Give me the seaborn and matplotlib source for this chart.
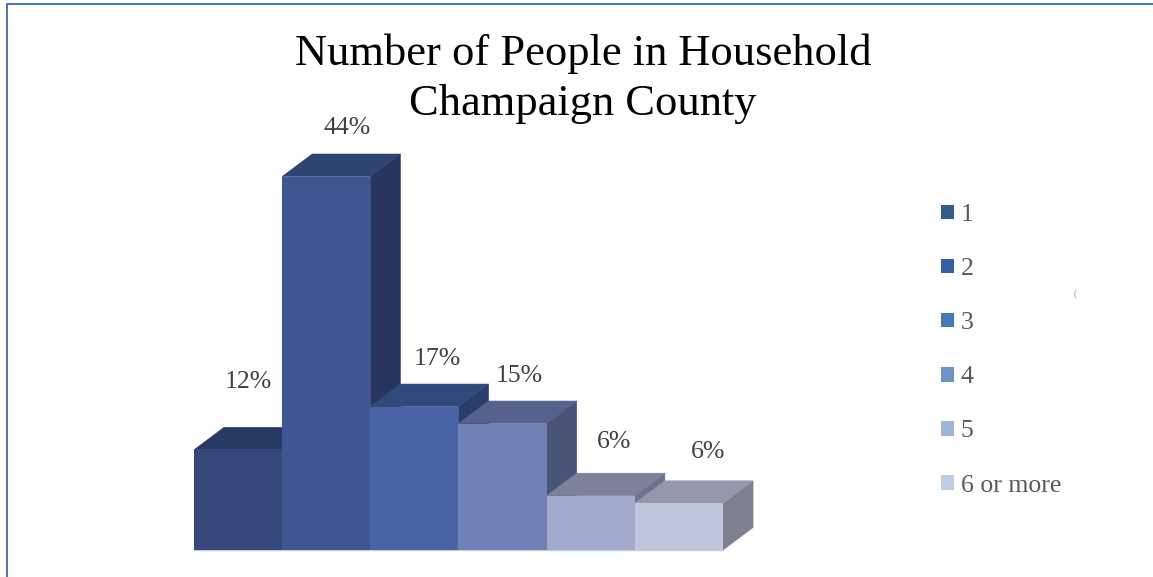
"""
Number of People in Household - Champaign County
Flat bars from seaborn, with the 3D top and side faces added on top of them.
"""

import pandas as pd
import matplotlib.pyplot as plt
import seaborn as sns
from matplotlib.lines import Line2D
from matplotlib.patches import Patch, Polygon

# DATA
PEOPLE = ['1', '2', '3', '4', '5', '6 or more']
SHARE = [11.8, 44.0, 16.9, 14.9, 6.4, 5.5]
SHARE_LABELS = ['12%', '44%', '17%', '15%', '6%', '6%']

# COLOURS
FRONT_COLORS = ['#36477A', '#3E5790', '#4763A4', '#6F80B5', '#9FAACC', '#BEC6DC']
TOP_COLORS = ['#263A63', '#2F4470', '#314A7C', '#55628E', '#7C8299', '#9498AA']
SIDE_COLORS = ['#263560', '#27355F', '#2A3C6C', '#495479', '#6C7490', '#7E8090']
LEGEND_COLORS = ['#355C8E', '#33609F', '#4379B8', '#6F93C6', '#9FB4D8', '#C0CEE4']
TEXT_COLOR = '#404040'
BORDER_COLOR = '#4472C4'

# LAYOUT (pixels)
W, H = 1153, 577
AX_LEFT, AX_RIGHT = 194, 723
AX_BOTTOM, AX_TOP = 550, 176.5

# depth of the 3D faces, in axis units
DEPTH_X = 30 / 88
DEPTH_Y = 22.5 / 8.49

# label offset from the bar's top centre, in pixels
LABEL_OFFSETS = [(10, 68), (21, 49), (23, 48), (17, 48), (23, 54), (29, 51)]


def draw_depth(ax):
    # left to right, so each bar's top covers the side of the bar before it
    for i, bar in enumerate(ax.patches):
        x0, x1 = bar.get_x(), bar.get_x() + bar.get_width()
        y = bar.get_height()
        side = [(x1, 0), (x1 + DEPTH_X, DEPTH_Y), (x1 + DEPTH_X, y + DEPTH_Y), (x1, y)]
        top = [(x0, y), (x0 + DEPTH_X, y + DEPTH_Y), (x1 + DEPTH_X, y + DEPTH_Y), (x1, y)]
        ax.add_patch(Polygon(side, closed=True, facecolor=SIDE_COLORS[i], edgecolor=SIDE_COLORS[i],
                             linewidth=0.4, clip_on=False, zorder=1 + i * 0.1))
        ax.add_patch(Polygon(top, closed=True, facecolor=TOP_COLORS[i], edgecolor=TOP_COLORS[i],
                             linewidth=0.4, clip_on=False, zorder=1.05 + i * 0.1))


def main():
    sns.set_theme(style='white')
    plt.rcParams['font.family'] = ['Liberation Serif', 'DejaVu Serif']

    df = pd.DataFrame({'people': PEOPLE, 'share': SHARE})

    fig = plt.figure(figsize=(W / 100, H / 100), dpi=100, facecolor='white')
    ax = fig.add_axes([AX_LEFT / W, 1 - AX_BOTTOM / H,
                       (AX_RIGHT - AX_LEFT) / W, (AX_BOTTOM - AX_TOP) / H])

    sns.barplot(data=df, x='people', y='share', hue='people', palette=FRONT_COLORS,
                order=PEOPLE, hue_order=PEOPLE, width=1, dodge=False, saturation=1,
                legend=False, ax=ax, zorder=3, edgecolor='none', linewidth=0)
    ax.set_xlim(-0.5, len(PEOPLE) - 0.5)
    ax.set_ylim(0, max(SHARE))
    ax.patch.set_visible(False)
    ax.set_xlabel('')
    ax.set_ylabel('')
    ax.set_xticks([])
    ax.set_yticks([])
    sns.despine(ax=ax, left=True, top=True, right=True)
    ax.spines['bottom'].set_color('#C8CEDF')
    ax.spines['bottom'].set_linewidth(1)

    bars = list(ax.patches)
    draw_depth(ax)

    for bar, label, (dx, dy) in zip(bars, SHARE_LABELS, LABEL_OFFSETS):
        ax.annotate(label, xy=(bar.get_x() + bar.get_width() / 2, bar.get_height()),
                    xytext=(dx, dy), textcoords='offset pixels', ha='center', va='center',
                    fontsize=18.5, color=TEXT_COLOR, annotation_clip=False)

    fig.suptitle('Number of People in Household\nChampaign County', x=583 / W, y=1 - 33 / H,
                 ha='center', va='top', fontsize=32, color='black', linespacing=1.33)

    handles = [Patch(facecolor=c, edgecolor='none', label=p)
               for c, p in zip(LEGEND_COLORS, PEOPLE)]
    fig.legend(handles=handles, loc='upper left', bbox_to_anchor=(941 / W, 1 - 204 / H),
               frameon=False, fontsize=18.5, labelcolor='#595959', handlelength=0.5,
               handleheight=0.5, handletextpad=0.27, labelspacing=1.25,
               borderpad=0, borderaxespad=0)

    # stray mark right of the legend
    fig.text(1075 / W, 1 - 294 / H, '(', fontsize=7, color='#999999', ha='center', va='center')

    # chart frame: only the top and left edges are in view
    fig.add_artist(Line2D([6.5 / W, 6.5 / W], [0, 1 - 4 / H], color=BORDER_COLOR, lw=1.4))
    fig.add_artist(Line2D([6.5 / W, 1], [1 - 4 / H, 1 - 4 / H], color=BORDER_COLOR, lw=1.4))

    fig.savefig('out.png', dpi=100)


if __name__ == "__main__":
    main()
